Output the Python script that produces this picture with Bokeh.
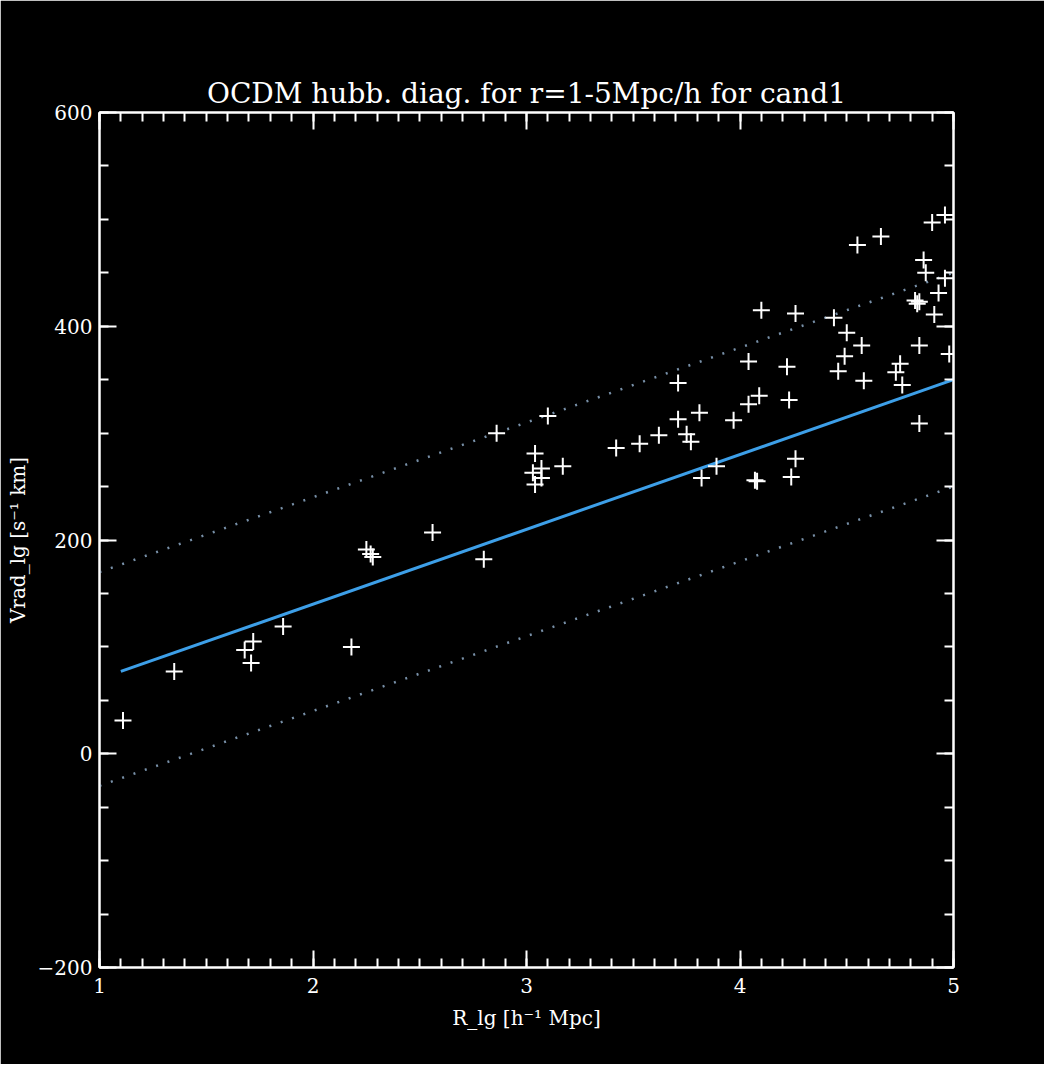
from bokeh.plotting import figure
from bokeh.models import Range1d, LinearAxis, FixedTicker
from bokeh.embed import file_html
from bokeh.resources import INLINE

# ---- data ----
r_lg = [1.11, 1.35, 1.68, 1.72, 1.71, 1.86, 2.18, 2.25, 2.27, 2.28,
        2.56, 2.80, 2.86, 3.10, 3.04, 3.07, 3.03, 3.07, 3.04, 3.17,
        3.42, 3.53, 3.62, 3.71, 3.75, 3.77, 3.81, 3.71, 3.97, 4.04,
        4.09, 4.23, 4.84, 3.89, 3.82, 4.07, 4.08, 4.26, 4.24, 4.04,
        4.10, 4.22, 4.26, 4.55, 4.66, 4.90, 4.96, 4.86, 4.87, 4.96,
        4.93, 4.82, 4.83, 4.84, 4.91, 4.44, 4.50, 4.57, 4.49, 4.46,
        4.58, 4.84, 4.98, 4.75, 4.73, 4.76]
v_lg = [31, 77, 97, 105, 85, 119, 100, 191, 187, 184,
        207, 182, 300, 316, 281, 267, 263, 258, 252, 269,
        286, 290, 298, 313, 299, 292, 319, 347, 312, 327,
        335, 331, 309, 269, 258, 256, 255, 276, 259, 367,
        415, 362, 412, 476, 484, 497, 504, 462, 450, 445,
        431, 424, 421, 423, 411, 408, 394, 382, 372, 358,
        349, 382, 374, 365, 357, 345]

fit_r = [1.1, 5.0]
fit_v = [77, 350]
band_r = [1.0, 5.0]
band_hi = [170, 450]
band_lo = [-30, 250]

x_major = [1, 2, 3, 4, 5]
x_minor = [round(1 + 0.1 * i, 1) for i in range(41)]
y_major = [-200, 0, 200, 400, 600]
y_minor = list(range(-200, 601, 50))

title_text = "OCDM hubb. diag. for r=1-5Mpc/h for cand1"
x_label = "R_lg [h\u207b\u00b9 Mpc]"
y_label = "Vrad_lg [s\u207b\u00b9 km]"

FONT = "DejaVu Serif"

p = figure(width=1044, height=1064, output_backend="svg", toolbar_location=None,
           x_range=Range1d(1, 5), y_range=Range1d(-200, 600),
           background_fill_color="black", border_fill_color="black",
           min_border_left=99, min_border_right=91, min_border_top=112,
           min_border_bottom=97)
p.grid.visible = False
p.outline_line_color = "white"
p.outline_line_width = 2

p.title.text = title_text
p.title.align = "center"
p.title.text_color = "white"
p.title.text_font = FONT
p.title.text_font_style = "normal"
p.title.text_font_size = "28px"
p.title.standoff = 5

top_axis = LinearAxis()
right_axis = LinearAxis()
p.add_layout(top_axis, "above")
p.add_layout(right_axis, "right")

for ax in p.xaxis:
    ax.ticker = FixedTicker(ticks=x_major, minor_ticks=x_minor)
for ax in p.yaxis:
    ax.ticker = FixedTicker(ticks=y_major, minor_ticks=y_minor)

for ax in p.axis:
    ax.axis_line_color = "white"
    ax.axis_line_width = 2
    ax.major_tick_line_color = "white"
    ax.minor_tick_line_color = "white"
    ax.major_tick_line_width = 2
    ax.minor_tick_line_width = 2
    ax.major_tick_in = 17
    ax.major_tick_out = 0
    ax.minor_tick_in = 9
    ax.minor_tick_out = 0
    ax.major_label_text_color = "white"
    ax.major_label_text_font = FONT
    ax.major_label_text_font_size = "20px"
    ax.axis_label_text_color = "white"
    ax.axis_label_text_font = FONT
    ax.axis_label_text_font_style = "normal"
    ax.axis_label_text_font_size = "20px"

# mirror axes: ticks only, labels not drawn
for ax in (top_axis, right_axis):
    ax.major_label_text_color = None
    ax.major_label_text_font_size = "1px"
    ax.major_label_standoff = 0

bottom_axis = p.below[0]
left_axis = p.left[0]
bottom_axis.axis_label = x_label
left_axis.axis_label = y_label
bottom_axis.major_label_standoff = 10
bottom_axis.axis_label_standoff = 10
left_axis.major_label_standoff = 7
left_axis.axis_label_standoff = 5

p.line(band_r, band_hi, line_color="#7890a8", line_width=2.5, line_dash="2 10")
p.line(band_r, band_lo, line_color="#7890a8", line_width=2.5, line_dash="2 10")
p.line(fit_r, fit_v, line_color="#3d9fe8", line_width=3)
p.scatter(r_lg, v_lg, marker="cross", size=17, line_color="white", line_width=2)

open("out.html", "w").write(file_html(p, INLINE))
